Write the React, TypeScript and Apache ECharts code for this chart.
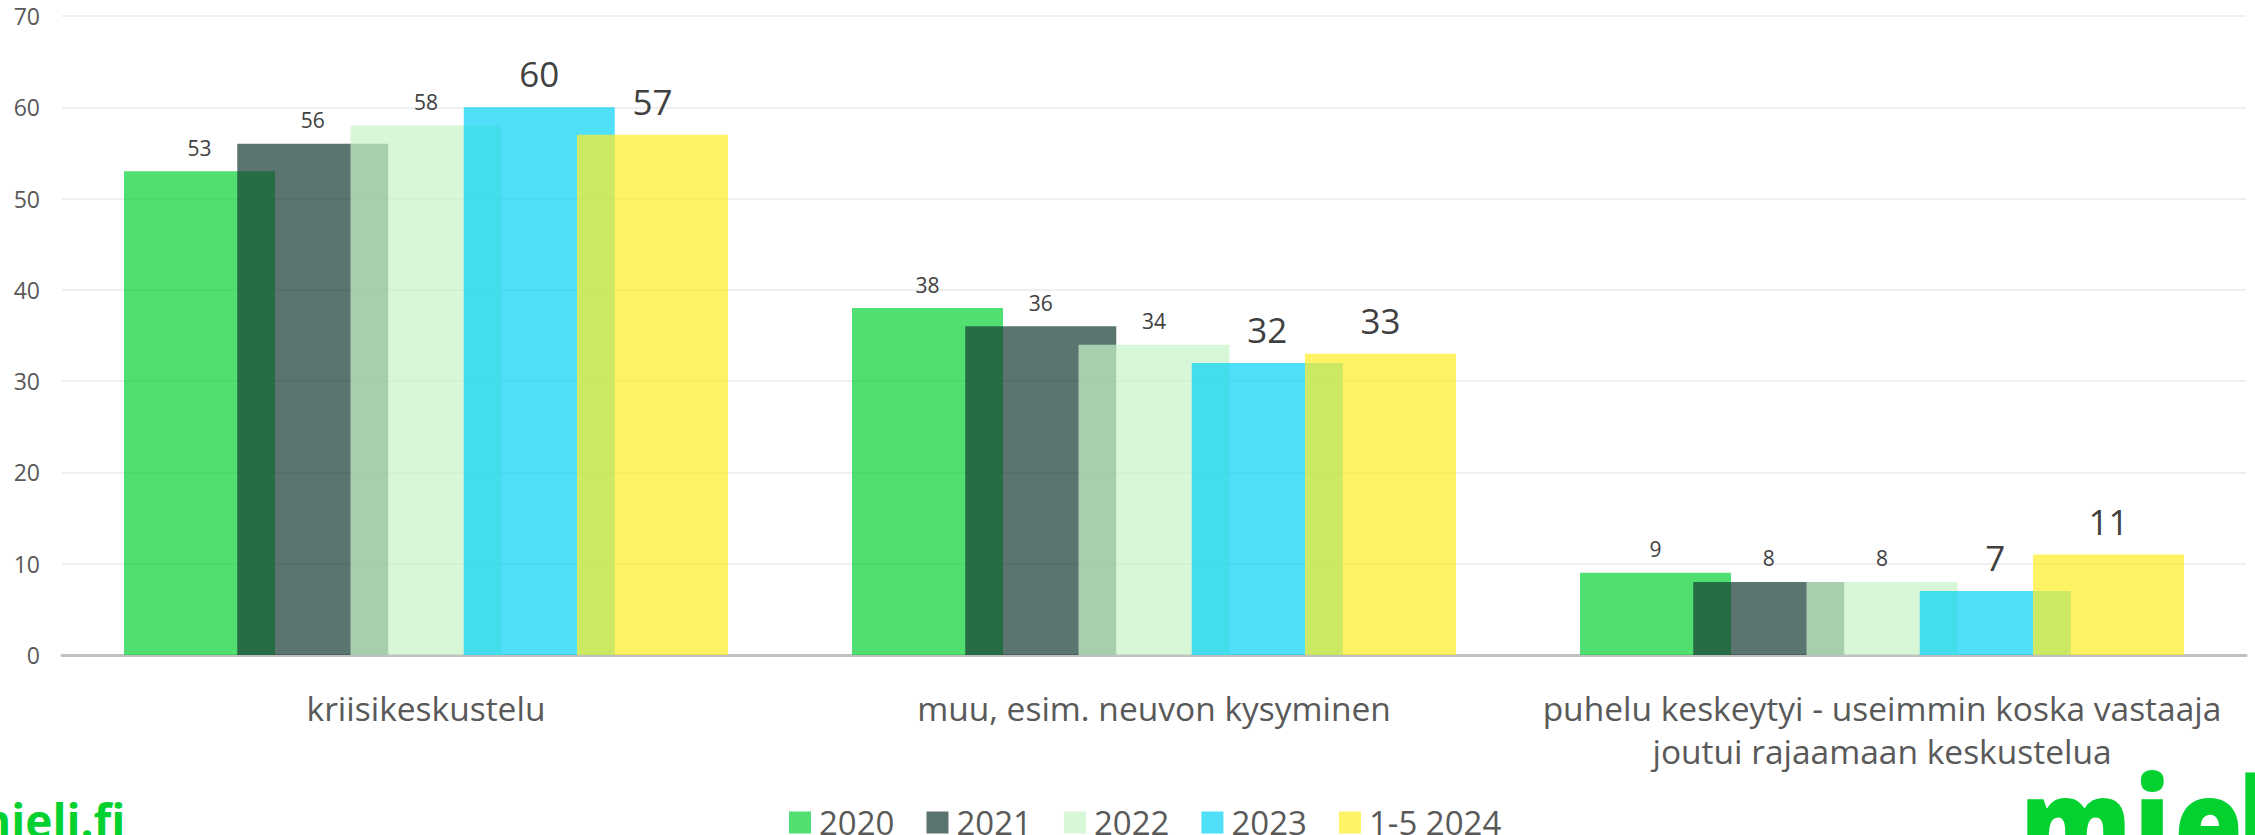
import React, { useEffect, useRef } from 'react';
import * as echarts from 'echarts';

const categories = [
  'kriisikeskustelu',
  'muu, esim. neuvon kysyminen',
  'puhelu keskeytyi - useimmin koska vastaaja\njoutui rajaamaan keskustelua',
];
const seriesNames = ['2020', '2021', '2022', '2023', '1-5 2024'];
const values2020 = [53, 38, 9];
const values2021 = [56, 36, 8];
const values2022 = [58, 34, 8];
const values2023 = [60, 32, 7];
const values2024 = [57, 33, 11];
const seriesValues = [values2020, values2021, values2022, values2023, values2024];
const seriesColors = [
  'rgba(5,209,51,0.7)',
  'rgba(20,58,50,0.7)',
  'rgba(199,244,199,0.7)',
  'rgba(5,209,245,0.7)',
  'rgba(255,236,36,0.7)',
];
const labelSizes = [21, 21, 21, 35, 35];
const labelDistances = [13, 13, 13, 16, 16];
const logoLetters = ['m', 'i', 'e', 'l'];
const logoLetterX = [2020, 2134, 2174, 2238];

const FONT = '"Open Sans", "Segoe UI", sans-serif';

export default function App() {
  const ref = useRef<HTMLDivElement>(null);
  useEffect(() => {
    if (!ref.current) return;
    const chart = echarts.init(ref.current, null, { renderer: 'svg' });
    chart.setOption({
      animation: false,
      backgroundColor: '#ffffff',
      textStyle: { fontFamily: FONT },
      grid: { left: 62, right: 9, top: 16, bottom: 180, containLabel: false },
      legend: {
        left: 784,
        top: 801,
        itemWidth: 22,
        itemHeight: 22,
        itemGap: 32,
        icon: 'rect',
        textStyle: { fontSize: 33, color: '#595959', fontFamily: FONT, padding: [0, 0, 0, 3] },
        data: seriesNames,
      },
      xAxis: {
        type: 'category',
        data: categories,
        axisTick: { show: false },
        axisLine: { lineStyle: { color: '#c0c0c0', width: 3 } },
        axisLabel: {
          interval: 0,
          fontSize: 33.5,
          lineHeight: 43,
          color: '#595959',
          margin: 31,
          fontFamily: FONT,
        },
      },
      yAxis: {
        type: 'value',
        min: 0,
        max: 70,
        interval: 10,
        axisLine: { show: false },
        axisTick: { show: false },
        splitLine: { lineStyle: { color: '#efefef', width: 2 } },
        axisLabel: { fontSize: 23, color: '#595959', margin: 22, fontFamily: FONT },
      },
      series: seriesNames.map((name, i) => ({
        name,
        type: 'bar',
        data: seriesValues[i],
        barWidth: 151,
        barGap: '-25%',
        itemStyle: { color: seriesColors[i] },
        label: {
          show: true,
          position: 'top',
          distance: labelDistances[i],
          fontSize: labelSizes[i],
          color: '#404040',
          fontFamily: FONT,
        },
      })),
      graphic: [
        {
          type: 'text',
          left: -34,
          top: 797,
          style: {
            text: 'mieli.fi',
            font: 'bold 46px "Open Sans", sans-serif',
            fill: '#03d12f',
          },
        },
        ...logoLetters.map((ch, i) => ({
          type: 'text',
          x: logoLetterX[i],
          y: 756,
          scaleX: 0.86,
          style: {
            text: ch,
            font: '800 130px "Open Sans", sans-serif',
            fill: '#03d12f',
          },
        })),
      ],
    });
    return () => chart.dispose();
  }, []);
  return (
    <div
      ref={ref}
      style={{ position: 'fixed', left: 0, top: 0, width: 2255, height: 835, overflow: 'hidden', background: '#fff' }}
    />
  );
}
